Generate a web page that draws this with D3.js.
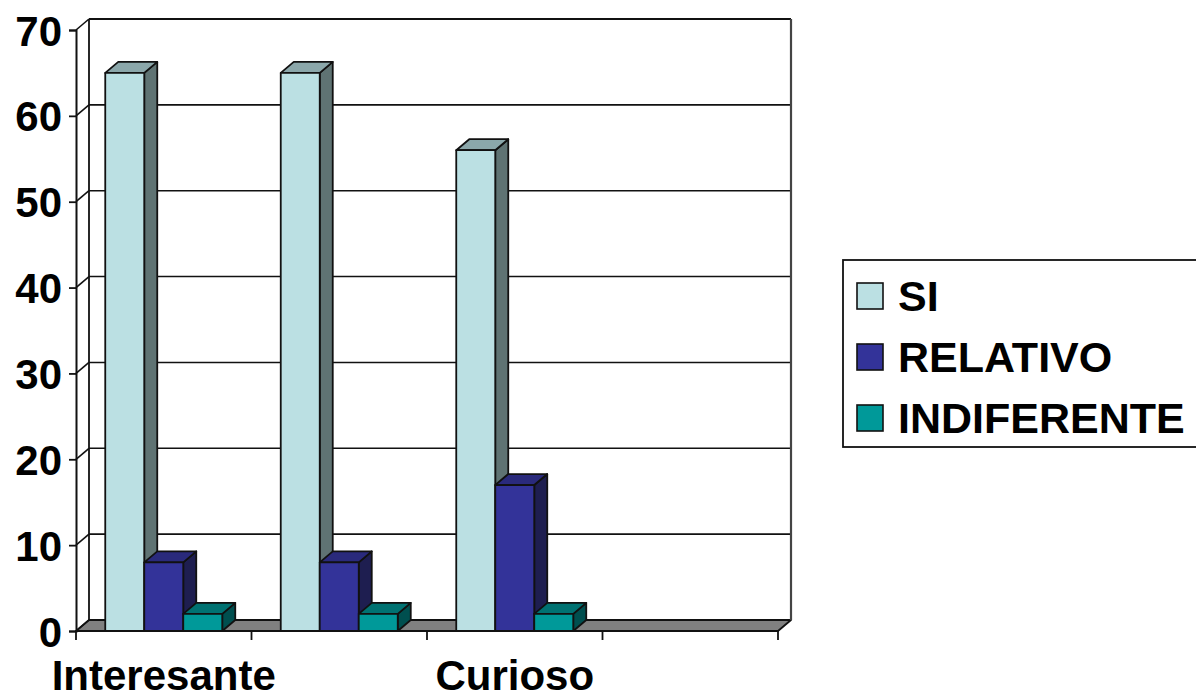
<!DOCTYPE html>
<html>
<head>
<meta charset="utf-8">
<script src="https://cdn.jsdelivr.net/npm/d3@7"></script>
<style>
  html, body { margin: 0; padding: 0; background: #fff; }
  svg { display: block; }
  text { font-family: Arial, "Liberation Sans", sans-serif; font-weight: bold; fill: #000; }
</style>
</head>
<body>
<svg id="chart" width="1196" height="699"></svg>
<script>
// Category slots (only every other one carries a label on the axis)
const categories = [0, 1, 2, 3];
const categoryLabels = ["Interesante", "", "Curioso", ""];
const seriesNames = ["SI", "RELATIVO", "INDIFERENTE"];
const siValues = [65, 65, 56, 0];
const relativoValues = [8, 8, 17, 0];
const indiferenteValues = [2, 2, 2, 0];
const yTicks = [0, 10, 20, 30, 40, 50, 60, 70];

const seriesValues = [siValues, relativoValues, indiferenteValues];
// front / side / top shading for each series
const palette = [
  { front: "#BBE0E3", side: "#5F7373", top: "#8BA7AA" },
  { front: "#333399", side: "#1E1E50", top: "#2A2A7C" },
  { front: "#009999", side: "#004F4F", top: "#007272" }
];

const svg = d3.select("#chart");

// plot frame (front plane) and depth offset of the 3D box
const x0 = 76, x1 = 778;
const depthX = 13, depthY = -11;

const y = d3.scaleLinear().domain([0, 70]).range([631, 30]);
const x = d3.scaleBand().domain(categories).range([x0, x1])
  .paddingInner(1 / 3).paddingOuter(1 / 6);
const xs = d3.scaleBand().domain(d3.range(seriesNames.length)).range([0, x.bandwidth()]);
const edges = d3.scaleLinear().domain([0, categories.length]).range([x0, x1]);

const line = d3.line();
const lineCol = "#111";

// floor
const floorY = y(0);
svg.append("path")
  .attr("d", line([[x0, floorY], [x1, floorY], [x1 + depthX, floorY + depthY], [x0 + depthX, floorY + depthY]]) + "Z")
  .attr("fill", "#808080").attr("stroke", lineCol).attr("stroke-width", 1.8).attr("stroke-linejoin", "round");

// back wall gridlines and left wall diagonals
const grid = svg.append("g");
yTicks.forEach(t => {
  const yb = y(t) + depthY;
  if (t > 0) {
    grid.append("line")
      .attr("x1", x0 + depthX).attr("x2", x1 + depthX).attr("y1", yb).attr("y2", yb)
      .attr("stroke", lineCol).attr("stroke-width", t === 70 ? 2 : 1.6);
  }
  grid.append("line")
    .attr("x1", x0).attr("y1", y(t)).attr("x2", x0 + depthX).attr("y2", yb)
    .attr("stroke", lineCol).attr("stroke-width", 1.6);
});
// back wall edges
grid.append("line")
  .attr("x1", x0 + depthX).attr("x2", x0 + depthX)
  .attr("y1", y(70) + depthY).attr("y2", y(0) + depthY)
  .attr("stroke", lineCol).attr("stroke-width", 1.8);
grid.append("line")
  .attr("x1", x1 + depthX).attr("x2", x1 + depthX)
  .attr("y1", y(70) + depthY).attr("y2", y(0) + depthY)
  .attr("stroke", "#444").attr("stroke-width", 2.2);

// 3D columns
const bars = svg.append("g");
categories.forEach(c => {
  seriesValues.forEach((vals, s) => {
    const v = vals[c];
    if (!v) return;
    const bx = x(c) + xs(s), bw = xs.bandwidth();
    const top = y(v), base = y(0);
    const col = palette[s];
    const g = bars.append("g")
      .attr("stroke", lineCol).attr("stroke-width", 1.8).attr("stroke-linejoin", "round");
    g.append("path")
      .attr("d", line([[bx + bw, top], [bx + bw + depthX, top + depthY], [bx + bw + depthX, base + depthY], [bx + bw, base]]) + "Z")
      .attr("fill", col.side);
    g.append("path")
      .attr("d", line([[bx, top], [bx + depthX, top + depthY], [bx + bw + depthX, top + depthY], [bx + bw, top]]) + "Z")
      .attr("fill", col.top);
    g.append("rect")
      .attr("x", bx).attr("y", top).attr("width", bw).attr("height", base - top)
      .attr("fill", col.front);
  });
});

// front floor edge
svg.append("line")
  .attr("x1", x0).attr("x2", x1).attr("y1", floorY).attr("y2", floorY)
  .attr("stroke", lineCol).attr("stroke-width", 2);

// value axis on the front left edge
const yAxis = svg.append("g")
  .attr("transform", `translate(${x0},0)`)
  .call(d3.axisLeft(y).tickValues(yTicks).tickSize(7).tickPadding(7).tickFormat(d3.format("d")));
yAxis.select(".domain").attr("stroke", lineCol).attr("stroke-width", 2);
yAxis.selectAll(".tick line").attr("stroke", lineCol).attr("stroke-width", 1.8);
yAxis.selectAll(".tick text")
  .attr("font-family", "Arial, 'Liberation Sans', sans-serif")
  .attr("font-weight", "bold").attr("font-size", 42).attr("fill", "#000")
  .attr("dy", "0.36em");

// category axis ticks at slot boundaries
const xTickVals = d3.range(categories.length + 1);
svg.append("g").selectAll("line").data(xTickVals).join("line")
  .attr("x1", d => edges(d)).attr("x2", d => edges(d))
  .attr("y1", floorY).attr("y2", floorY + 9)
  .attr("stroke", lineCol).attr("stroke-width", 1.8);

// category labels
svg.append("g").selectAll("text").data(categories).join("text")
  .attr("x", d => x(d) + x.bandwidth() / 2)
  .attr("y", 690)
  .attr("text-anchor", "middle")
  .attr("font-size", 42)
  .text(d => categoryLabels[d]);

// legend
const legend = svg.append("g");
legend.append("rect")
  .attr("x", 843).attr("y", 260).attr("width", 400).attr("height", 187)
  .attr("fill", "#fff").attr("stroke", lineCol).attr("stroke-width", 1.8);
const legendY = d3.scalePoint().domain(seriesNames).range([296, 418]);
seriesNames.forEach((name, i) => {
  const cy = legendY(name);
  legend.append("rect")
    .attr("x", 857).attr("y", cy - 13).attr("width", 26).attr("height", 26)
    .attr("fill", palette[i].front).attr("stroke", lineCol).attr("stroke-width", 1.6);
  legend.append("text")
    .attr("x", 898).attr("y", cy).attr("dy", "0.36em")
    .attr("font-size", 43)
    .text(name);
});
</script>
</body>
</html>
